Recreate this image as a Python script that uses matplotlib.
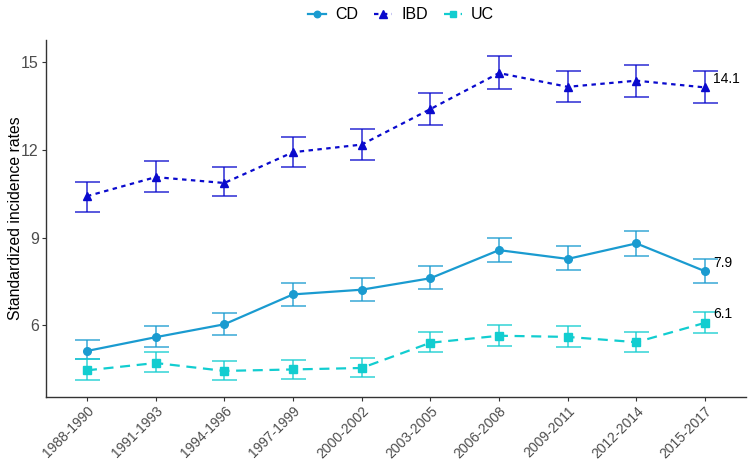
import matplotlib.pyplot as plt
import numpy as np

plt.rcParams['font.family'] = ['Liberation Sans', 'DejaVu Sans']

periods = ['1988-1990', '1991-1993', '1994-1996', '1997-1999', '2000-2002',
           '2003-2005', '2006-2008', '2009-2011', '2012-2014', '2015-2017']

# standardized incidence rates, lower and upper CI
cd = [5.13, 5.60, 6.04, 7.06, 7.22, 7.61, 8.57, 8.27, 8.80, 7.85]
cd_lo = [4.84, 5.27, 5.68, 6.67, 6.84, 7.23, 8.16, 7.89, 8.37, 7.45]
cd_hi = [5.52, 5.98, 6.42, 7.45, 7.62, 8.03, 9.00, 8.71, 9.23, 8.27]

ibd = [10.41, 11.06, 10.86, 11.91, 12.17, 13.38, 14.61, 14.14, 14.35, 14.12]
ibd_lo = [9.87, 10.56, 10.40, 11.40, 11.65, 12.85, 14.05, 13.62, 13.81, 13.58]
ibd_hi = [10.89, 11.60, 11.42, 12.42, 12.70, 13.92, 15.19, 14.69, 14.89, 14.69]

uc = [4.47, 4.72, 4.45, 4.50, 4.55, 5.41, 5.65, 5.61, 5.43, 6.09]
uc_lo = [4.13, 4.40, 4.13, 4.17, 4.24, 5.08, 5.30, 5.26, 5.09, 5.73]
uc_hi = [4.84, 5.08, 4.78, 4.83, 4.88, 5.77, 6.02, 5.98, 5.78, 6.45]

series = [
    ('CD', cd, cd_lo, cd_hi, '#1a9bd0', 'o', '-', 5.5),
    ('IBD', ibd, ibd_lo, ibd_hi, '#0a0acd', '^', (0, (2, 2)), 6),
    ('UC', uc, uc_lo, uc_hi, '#12cdd0', 's', (0, (4.5, 3)), 5.5),
]

fig = plt.figure(figsize=(7.5, 4.67), dpi=100)
ax = fig.add_axes([0.061, 0.1505, 0.934, 0.764])

x = np.arange(len(periods))
handles = []
for name, v, lo, hi, col, mk, ls, ms in series:
    v = np.array(v); lo = np.array(lo); hi = np.array(hi)
    ax.errorbar(x, v, yerr=[v - lo, hi - v], fmt='none', ecolor=col,
                elinewidth=1.2, capsize=9, capthick=1.2, alpha=0.8, zorder=2)
    h, = ax.plot(x, v, color=col, linestyle=ls, linewidth=1.6,
                 marker=mk, markersize=ms, zorder=3, label=name)
    handles.append(h)

ax.text(x[-1] + 0.12, ibd[-1] + 0.05, '14.1', fontsize=10, va='bottom', ha='left')
ax.text(x[-1] + 0.12, cd[-1] + 0.05, '7.9', fontsize=10, va='bottom', ha='left')
ax.text(x[-1] + 0.12, uc[-1] + 0.05, '6.1', fontsize=10, va='bottom', ha='left')

ax.set_xlim(-0.6, len(periods) - 0.4)
ax.set_ylim(3.57, 15.74)
ax.set_yticks([6, 9, 12, 15])
ax.set_xticks(x)
ax.set_xticklabels(periods, rotation=45, ha='right', rotation_mode='anchor')
ax.tick_params(axis='both', colors='#333333', labelcolor='#4d4d4d', length=3, width=0.8, pad=2)
ax.tick_params(axis='y', labelsize=11.5)
ax.tick_params(axis='x', labelsize=10)
ax.set_ylabel('Standardized incidence rates', fontsize=11.3)
ax.yaxis.set_label_coords(-0.033, 0.5)
for s in ['top', 'right']:
    ax.spines[s].set_visible(False)
for s in ['left', 'bottom']:
    ax.spines[s].set_color('#333333')
    ax.spines[s].set_linewidth(1.0)

fig.legend(handles=handles, loc='upper center', bbox_to_anchor=(0.535, 1.015),
           ncol=3, frameon=False, fontsize=11.5, handlelength=1.1,
           columnspacing=1.0, handletextpad=0.6, markerscale=0.85)

fig.savefig('out.png', dpi=100)
